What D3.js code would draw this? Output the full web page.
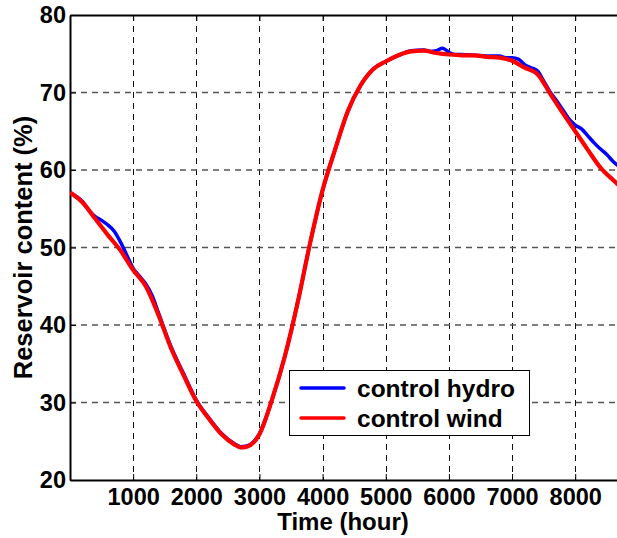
<!DOCTYPE html>
<html>
<head>
<meta charset="utf-8">
<script src="https://cdn.jsdelivr.net/npm/d3@7/dist/d3.min.js"></script>
<style>
  html, body { margin: 0; padding: 0; background: #fff; }
  svg { display: block; }
  text { font-family: "Liberation Sans", Arial, sans-serif; font-weight: bold; }
</style>
</head>
<body>
<script>
// ---- data ----
const xTicks = [1000, 2000, 3000, 4000, 5000, 6000, 7000, 8000];
const yTicks = [20, 30, 40, 50, 60, 70, 80];
const seriesNames = ["control hydro", "control wind"];

const windHours = [0, 200, 400, 600, 800, 1000, 1200, 1400, 1600, 1800, 2000, 2200, 2400, 2600, 2700, 2800, 3000,
  3200, 3400, 3600, 3800, 4000, 4200, 4400, 4600, 4800, 5000, 5200, 5400, 5600, 5800, 6000, 6200, 6400, 6600,
  6800, 7000, 7200, 7400, 7600, 7800, 8000, 8200, 8400, 8600, 8760];
const windValues = [57.1, 55.8, 53.7, 51.6, 49.6, 47.1, 45.0, 41.3, 37.0, 33.5, 30.2, 27.9, 25.9, 24.6, 24.2, 24.3, 25.9,
  30.4, 35.9, 42.7, 50.5, 57.4, 62.7, 67.6, 70.9, 73.0, 74.0, 74.8, 75.3, 75.4, 75.1, 74.9, 74.8, 74.8, 74.6,
  74.5, 74.1, 73.2, 72.4, 69.9, 67.4, 65.0, 62.6, 60.3, 58.7, 57.5];

const hydroHours = [0, 200, 300, 400, 500, 600, 700, 800, 900, 1000, 1100, 1200, 1300, 1400, 1600, 1800, 2000, 2200,
  2400, 2600, 2700, 2800, 3000, 3200, 3400, 3600, 3800, 4000, 4200, 4400, 4600, 4800, 5000, 5200, 5400, 5600,
  5700, 5800, 5900, 6000, 6100, 6200, 6400, 6600, 6800, 6900, 7000, 7100, 7200, 7300, 7400, 7500, 7600, 7700,
  7800, 7900, 8000, 8100, 8200, 8300, 8400, 8500, 8600, 8700, 8760];
const hydroValues = [57.1, 55.9, 54.8, 54.0, 53.5, 52.9, 52.1, 50.7, 49.0, 47.3, 46.3, 45.3, 43.8, 41.6, 37.2, 33.7, 30.3, 28.0,
  26.0, 24.7, 24.3, 24.4, 26.0, 30.4, 35.9, 42.7, 50.5, 57.4, 62.7, 67.6, 70.9, 73.0, 74.0, 74.8, 75.4, 75.5,
  75.3, 75.4, 75.7, 75.2, 74.9, 74.9, 74.8, 74.7, 74.7, 74.5, 74.5, 74.3, 73.6, 73.2, 72.8, 71.5, 70.1, 69.0,
  67.8, 66.6, 65.8, 65.3, 64.4, 63.5, 62.7, 62.0, 61.1, 60.4, 59.9];

// ---- layout ----
const W = 617, H = 538;
const FONT = '"Liberation Sans", Arial, sans-serif';
const svg = d3.select("body").append("svg").attr("width", W).attr("height", H);

const x = d3.scaleLinear().domain([0, 8760]).range([70, 623.2]);
const y = d3.scaleLinear().domain([20, 80]).range([480, 15]);

svg.append("defs").append("clipPath").attr("id", "clip")
  .append("rect").attr("x", 70).attr("y", 15).attr("width", 553.2).attr("height", 465);

// grid
const grid = svg.append("g");
xTicks.forEach(t => {
  grid.append("line").attr("x1", Math.round(x(t)) + 0.5).attr("x2", Math.round(x(t)) + 0.5)
    .attr("y1", 15).attr("y2", 480)
    .attr("stroke", "#111").attr("stroke-width", 1).attr("stroke-dasharray", "6,5");
});
yTicks.slice(1, -1).forEach(t => {
  grid.append("line").attr("x1", 70).attr("x2", 623)
    .attr("y1", y(t)).attr("y2", y(t))
    .attr("stroke", "#555").attr("stroke-width", 1.6).attr("stroke-dasharray", "6,5");
});

// axes
const xAxis = d3.axisBottom(x).tickValues(xTicks).tickFormat(d3.format("d"))
  .tickSizeInner(-6).tickSizeOuter(0).tickPadding(13);
const gx = svg.append("g").attr("transform", "translate(0,480)").call(xAxis);
gx.select(".domain").attr("stroke", "#000").attr("stroke-width", 2);
gx.selectAll(".tick line").attr("stroke", "#000").attr("stroke-width", 1);
gx.selectAll(".tick text").attr("font-size", 23.5).attr("fill", "#000").attr("dy", null).attr("y", 25)
  .style("font-family", FONT).style("font-weight", "bold");

const xTop = d3.axisTop(x).tickValues(xTicks).tickSizeInner(-6).tickSizeOuter(0).tickFormat("");
const gxt = svg.append("g").attr("transform", "translate(0,15)").call(xTop);
gxt.select(".domain").attr("stroke", "#000").attr("stroke-width", 2);
gxt.selectAll(".tick line").attr("stroke", "#000");

const yAxis = d3.axisLeft(y).tickValues(yTicks).tickFormat(d3.format("d"))
  .tickSizeInner(-6).tickSizeOuter(0).tickPadding(4);
const gy = svg.append("g").attr("transform", "translate(70,0)").call(yAxis);
gy.select(".domain").attr("stroke", "#000").attr("stroke-width", 2);
gy.selectAll(".tick line").attr("stroke", "#000");
gy.selectAll(".tick text").attr("font-size", 23.5).attr("fill", "#000")
  .style("font-family", FONT).style("font-weight", "bold");

// lines
const lineGen = d3.line().x(d => x(d[0])).y(d => y(d[1])).curve(d3.curveMonotoneX);
const plot = svg.append("g").attr("clip-path", "url(#clip)");
plot.append("path").datum(hydroHours.map((h, i) => [h, hydroValues[i]]))
  .attr("d", lineGen).attr("fill", "none").attr("stroke", "#0000ff").attr("stroke-width", 3.5)
  .attr("stroke-linejoin", "round");
plot.append("path").datum(windHours.map((h, i) => [h, windValues[i]]))
  .attr("d", lineGen).attr("fill", "none").attr("stroke", "#ff0000").attr("stroke-width", 4.2)
  .attr("stroke-linejoin", "round");

// axis titles
svg.append("text").attr("x", 343).attr("y", 529.5).attr("text-anchor", "middle")
  .attr("font-size", 24).text("Time (hour)");
svg.append("text").attr("transform", "translate(31.5,247.5) rotate(-90)").attr("text-anchor", "middle")
  .attr("font-size", 25.5).text("Reservoir content (%)");

// legend
const lg = svg.append("g");
lg.append("rect").attr("x", 289.5).attr("y", 370.5).attr("width", 240).attr("height", 65)
  .attr("fill", "#fff").attr("stroke", "#000").attr("stroke-width", 1);
const colors = ["#0000ff", "#ff0000"];
seriesNames.forEach((n, i) => {
  const yy = 388 + i * 30;
  lg.append("line").attr("x1", 301).attr("x2", 344).attr("y1", yy).attr("y2", yy)
    .attr("stroke", colors[i]).attr("stroke-width", 3.5).attr("stroke-linecap", "round");
  lg.append("text").attr("x", 357).attr("y", yy + 8.7).attr("font-size", 24.5).text(n);
});
</script>
</body>
</html>
